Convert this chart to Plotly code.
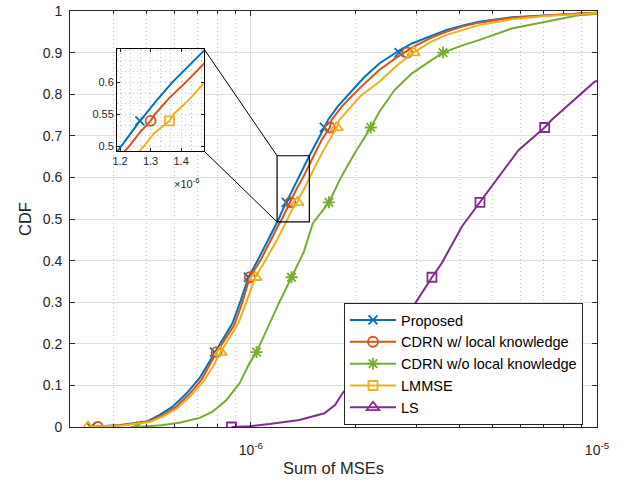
import numpy as np
import plotly.graph_objects as go

# ---------------- data ----------------
x_limits = [3e-7, 1e-5]
y_limits = [0, 1]
x_major = [1e-6, 1e-5]
x_major_text = ["10<sup>-6</sup>", "10<sup>-5</sup>"]
x_minor = [3e-7, 4e-7, 5e-7, 6e-7, 7e-7, 8e-7, 9e-7,
           2e-6, 3e-6, 4e-6, 5e-6, 6e-6, 7e-6, 8e-6, 9e-6]
y_ticks = [0, 0.1, 0.2, 0.3, 0.4, 0.5, 0.6, 0.7, 0.8, 0.9, 1]
y_tick_text = ["0", "0.1", "0.2", "0.3", "0.4", "0.5", "0.6", "0.7", "0.8", "0.9", "1"]

marker_levels = [0, 0.18, 0.36, 0.54, 0.72, 0.9]

proposed_x = [3.4e-7, 4.2e-7, 5.0e-7, 5.45e-7, 5.94e-7, 6.52e-7, 7.11e-7, 7.5e-7, 7.85e-7,
              8.3e-7, 8.85e-7, 9.35e-7, 9.84e-7, 1.045e-6, 1.12e-6, 1.18e-6, 1.203e-6,
              1.235e-6, 1.265e-6, 1.283e-6, 1.32e-6, 1.371e-6, 1.42e-6, 1.475e-6, 1.56e-6,
              1.63e-6, 1.67e-6, 1.78e-6, 1.92e-6, 2.12e-6, 2.35e-6, 2.68e-6, 2.92e-6,
              3.3e-6, 3.66e-6, 4.1e-6, 4.56e-6, 5.67e-6, 7.11e-6, 8.84e-6, 1e-5]
proposed_cdf = [0, 0.005, 0.013, 0.029, 0.049, 0.081, 0.118, 0.15, 0.18,
                0.21, 0.25, 0.305, 0.36, 0.40, 0.45, 0.485, 0.50,
                0.522, 0.54, 0.55, 0.572, 0.60, 0.625, 0.652, 0.69,
                0.72, 0.738, 0.77, 0.80, 0.84, 0.874, 0.905, 0.922,
                0.94, 0.954, 0.965, 0.974, 0.985, 0.99, 0.994, 0.996]
proposed_mk_x = [3.45e-7, 7.85e-7, 9.84e-7, 1.265e-6, 1.63e-6, 2.68e-6]

cdrn_w_x = [3.6e-7, 4.3e-7, 5.05e-7, 5.55e-7, 6.05e-7, 6.62e-7, 7.2e-7, 7.6e-7, 7.96e-7,
            8.4e-7, 8.95e-7, 9.45e-7, 9.92e-7, 1.065e-6, 1.14e-6, 1.2e-6, 1.229e-6,
            1.265e-6, 1.30e-6, 1.314e-6, 1.36e-6, 1.415e-6, 1.475e-6, 1.53e-6, 1.60e-6,
            1.69e-6, 1.71e-6, 1.83e-6, 1.98e-6, 2.17e-6, 2.35e-6, 2.6e-6, 2.83e-6,
            2.92e-6, 3.3e-6, 3.66e-6, 4.1e-6, 4.56e-6, 5.67e-6, 7.11e-6, 8.84e-6, 1e-5]
cdrn_w_cdf = [0, 0.005, 0.013, 0.028, 0.047, 0.078, 0.114, 0.148, 0.18,
              0.21, 0.245, 0.30, 0.36, 0.40, 0.45, 0.485, 0.50,
              0.522, 0.54, 0.55, 0.575, 0.60, 0.631, 0.66, 0.69,
              0.72, 0.738, 0.77, 0.80, 0.832, 0.858, 0.885, 0.905,
              0.912, 0.935, 0.95, 0.963, 0.972, 0.984, 0.99, 0.994, 0.996]
cdrn_w_mk_x = [3.61e-7, 7.96e-7, 9.92e-7, 1.30e-6, 1.69e-6, 2.83e-6]

cdrn_wo_x = [4.68e-7, 5.5e-7, 6.22e-7, 7.11e-7, 7.75e-7, 8.5e-7, 9.27e-7, 9.9e-7, 1.038e-6,
             1.131e-6, 1.208e-6, 1.31e-6, 1.42e-6, 1.51e-6, 1.68e-6, 1.82e-6, 2.0e-6,
             2.22e-6, 2.35e-6, 2.6e-6, 2.92e-6, 3.3e-6, 3.59e-6, 4.1e-6, 4.56e-6,
             5.67e-6, 7.11e-6, 8.84e-6, 1e-5]
cdrn_wo_cdf = [0, 0.004, 0.01, 0.022, 0.037, 0.065, 0.105, 0.153, 0.18,
               0.25, 0.30, 0.36, 0.42, 0.49, 0.54, 0.60, 0.66,
               0.72, 0.758, 0.81, 0.85, 0.88, 0.90, 0.918, 0.93,
               0.958, 0.974, 0.99, 0.993]
cdrn_wo_mk_x = [4.68e-7, 1.038e-6, 1.31e-6, 1.68e-6, 2.22e-6, 3.59e-6]

lmmse_x = [3.38e-7, 4.3e-7, 5.1e-7, 5.6e-7, 6.12e-7, 6.7e-7, 7.3e-7, 7.8e-7, 8.17e-7,
           8.6e-7, 9.2e-7, 9.7e-7, 1.03e-6, 1.1e-6, 1.19e-6, 1.25e-6, 1.277e-6,
           1.31e-6, 1.362e-6, 1.375e-6, 1.43e-6, 1.475e-6, 1.54e-6, 1.62e-6, 1.70e-6,
           1.77e-6, 1.80e-6, 1.92e-6, 2.07e-6, 2.35e-6, 2.65e-6, 2.95e-6, 3.3e-6,
           3.66e-6, 4.1e-6, 4.56e-6, 5.67e-6, 7.11e-6, 8.84e-6, 1e-5]
lmmse_cdf = [0, 0.004, 0.012, 0.026, 0.045, 0.075, 0.11, 0.148, 0.18,
             0.21, 0.25, 0.30, 0.36, 0.40, 0.45, 0.485, 0.50,
             0.52, 0.54, 0.55, 0.575, 0.599, 0.63, 0.665, 0.695,
             0.72, 0.738, 0.765, 0.795, 0.83, 0.87, 0.90, 0.925,
             0.942, 0.955, 0.966, 0.98, 0.988, 0.992, 0.995]
lmmse_mk_x = [3.38e-7, 8.17e-7, 1.03e-6, 1.362e-6, 1.77e-6, 2.95e-6]

ls_x = [8.79e-7, 9.9e-7, 1.131e-6, 1.38e-6, 1.63e-6, 1.75e-6, 1.835e-6, 2.3e-6,
        2.96e-6, 3.335e-6, 3.56e-6, 4.07e-6, 4.59e-6, 5.31e-6, 5.94e-6, 7.06e-6,
        7.39e-6, 9.84e-6, 1e-5]
ls_cdf = [0, 0.002, 0.007, 0.017, 0.033, 0.053, 0.08, 0.18,
          0.293, 0.36, 0.394, 0.482, 0.54, 0.61, 0.666, 0.72,
          0.738, 0.83, 0.832]
ls_mk_x = [8.79e-7, 2.3e-6, 3.335e-6, 4.59e-6, 7.06e-6]

inset_xlim = [1.19e-6, 1.475e-6]
inset_ylim = [0.493, 0.652]
inset_xticks = [1.2e-6, 1.3e-6, 1.4e-6]
inset_xtick_text = ["1.2", "1.3", "1.4"]
inset_yticks = [0.5, 0.55, 0.6]
inset_ytick_text = ["0.5", "0.55", "0.6"]

# ---------------- styles ----------------
BLUE, ORANGE, GREEN, YELLOW, PURPLE = "#0072BD", "#D95319", "#77AC30", "#EDB120", "#7E2F8E"
FONT = "Liberation Sans, Arial, Helvetica, sans-serif"
AX = "#262626"
LW = 2

W, H = 629, 484
PL, PR, PT, PB = 70, 597, 11, 427   # plot area in pixels
ML, MR, MT, MB = PL, W - PR, PT, H - PB

series = [
    ("Proposed", proposed_x, proposed_cdf, proposed_mk_x, BLUE, "x-thin-open", "x-thin-open"),
    ("CDRN w/ local knowledge", cdrn_w_x, cdrn_w_cdf, cdrn_w_mk_x, ORANGE, "circle-open", "circle-open"),
    ("CDRN w/o local knowledge", cdrn_wo_x, cdrn_wo_cdf, cdrn_wo_mk_x, GREEN, "asterisk-open", "asterisk-open"),
    ("LMMSE", lmmse_x, lmmse_cdf, lmmse_mk_x, YELLOW, "triangle-up-open", "square-open"),
    ("LS", ls_x, ls_cdf, ls_mk_x, PURPLE, "square-open", "triangle-up-open"),
]

def msize(sym):
    return {"x-thin-open": 9, "circle-open": 10, "asterisk-open": 10,
            "triangle-up-open": 11, "square-open": 9}[sym]

fig = go.Figure()

for name, xs, ys, mk, col, sym_plot, sym_leg in series:
    fig.add_trace(go.Scatter(x=xs, y=ys, mode="lines", line=dict(color=col, width=LW),
                             showlegend=False, hoverinfo="skip", xaxis="x", yaxis="y"))
    fig.add_trace(go.Scatter(x=mk, y=marker_levels[:len(mk)], mode="markers",
                             marker=dict(symbol=sym_plot, size=msize(sym_plot), color=col,
                                         line=dict(color=col, width=1.8)),
                             showlegend=False, hoverinfo="skip", xaxis="x", yaxis="y"))

for name, xs, ys, mk, col, sym_plot, sym_leg in series:
    fig.add_trace(go.Scatter(x=[None], y=[None], mode="lines+markers", name=name,
                             line=dict(color=col, width=LW),
                             marker=dict(symbol=sym_leg, size=msize(sym_leg), color=col,
                                         line=dict(color=col, width=1.8))))

fig.add_trace(go.Scatter(x=[inset_xlim[0], inset_xlim[1], inset_xlim[1], inset_xlim[0], inset_xlim[0]],
                         y=[inset_ylim[0], inset_ylim[0], inset_ylim[1], inset_ylim[1], inset_ylim[0]],
                         mode="lines", line=dict(color="black", width=1.2),
                         showlegend=False, hoverinfo="skip", xaxis="x", yaxis="y"))

inset_marker_symbols = ["x-thin-open", "circle-open", None, "square-open", None]
for (name, xs, ys, mk, col, sym_plot, sym_leg), isym in zip(series, inset_marker_symbols):
    if isym is None:
        continue
    fig.add_trace(go.Scatter(x=xs, y=ys, mode="lines", line=dict(color=col, width=LW),
                             showlegend=False, hoverinfo="skip", xaxis="x2", yaxis="y2"))
    fig.add_trace(go.Scatter(x=[mk[3]], y=[marker_levels[3]], mode="markers",
                             marker=dict(symbol=isym, size=msize(isym), color=col,
                                         line=dict(color=col, width=1.8)),
                             showlegend=False, hoverinfo="skip", xaxis="x2", yaxis="y2"))

pw = PR - PL
ph = PB - PT
lo, hi = np.log10(x_limits[0]), np.log10(x_limits[1])

def fx(px):
    return (px - PL) / pw

def fy(py):
    return (PB - py) / ph

inset_px = [117, 204, 49, 151]  # left, right, top, bottom
ix0, ix1 = fx(inset_px[0]), fx(inset_px[1])
iy0, iy1 = fy(inset_px[3]), fy(inset_px[2])

rx0 = (np.log10(inset_xlim[0]) - lo) / (hi - lo)
ry0, ry1 = inset_ylim

fig.update_layout(
    width=W, height=H,
    margin=dict(l=ML, r=MR, t=MT, b=MB, autoexpand=False),
    paper_bgcolor="white", plot_bgcolor="white",
    font=dict(family=FONT, size=14, color=AX),
    xaxis=dict(type="log", range=[lo, hi], tickmode="array", tickvals=x_major,
               ticktext=x_major_text, ticks="inside", ticklen=5, tickcolor=AX,
               showline=True, linecolor=AX, linewidth=1, mirror="ticks",
               showgrid=True, gridcolor="#dedede", gridwidth=1, automargin=False,
               zeroline=False, tickfont=dict(size=14), ticklabelstandoff=10,
               ticklabeloverflow="allow",
               minor=dict(tickmode="array", tickvals=x_minor, ticks="inside", ticklen=3,
                          tickcolor=AX, showgrid=True, gridcolor="#c4c4c4",
                          griddash="1px,3px", gridwidth=1),
               title=dict(text="Sum of MSEs", font=dict(size=16.5), standoff=5),
               domain=[0, 1]),
    yaxis=dict(range=y_limits, tickmode="array", tickvals=y_ticks, ticktext=y_tick_text,
               ticks="inside", ticklen=5, tickcolor=AX, showline=True, linecolor=AX,
               linewidth=1, mirror="ticks", showgrid=True, gridcolor="#dedede",
               zeroline=False, tickfont=dict(size=14), ticklabelstandoff=4, automargin=False,
               ticklabeloverflow="allow",
               title=dict(text="CDF", font=dict(size=16.5), standoff=6),
               domain=[0, 1]),
    xaxis2=dict(domain=[ix0, ix1], anchor="y2", range=inset_xlim, tickmode="array",
                tickvals=inset_xticks, ticktext=inset_xtick_text, ticks="inside", ticklen=3,
                tickcolor=AX, showline=True, linecolor="black", linewidth=1, mirror="ticks",
                showgrid=False, zeroline=False, tickfont=dict(size=11), automargin=False,
                minor=dict(tick0=inset_xticks[0], dtick=1e-7 / 3, showgrid=True,
                           gridcolor="#c4c4c4", griddash="1px,3px", gridwidth=1)),
    yaxis2=dict(domain=[iy0, iy1], anchor="x2", range=inset_ylim, tickmode="array",
                tickvals=inset_yticks, ticktext=inset_ytick_text, ticks="inside", ticklen=3,
                tickcolor=AX, showline=True, linecolor="black", linewidth=1, mirror="ticks",
                showgrid=False, zeroline=False, tickfont=dict(size=11), automargin=False,
                minor=dict(tick0=inset_yticks[0], dtick=0.05 / 3, showgrid=True,
                           gridcolor="#c4c4c4", griddash="1px,3px", gridwidth=1)),
    legend=dict(x=fx(344), y=fy(425), xanchor="left", yanchor="bottom",
                bgcolor="white", bordercolor=AX, borderwidth=1, itemwidth=46,
                font=dict(size=14.5, color="black"), tracegroupgap=0),
    showlegend=True,
    shapes=[
        dict(type="line", xref="paper", yref="paper", x0=ix1, y0=iy1, x1=rx0, y1=ry1,
             line=dict(color="black", width=1)),
        dict(type="line", xref="paper", yref="paper", x0=ix1, y0=iy0, x1=rx0, y1=ry0,
             line=dict(color="black", width=1)),
    ],
    annotations=[
        dict(text="×10<sup>-6</sup>", xref="paper", yref="paper",
             x=fx(187), y=fy(183), showarrow=False,
             font=dict(size=11, color=AX), xanchor="center", yanchor="middle"),
    ],
)

fig.write_html("out.html", config={"displayModeBar": False},
               post_script="document.body.style.margin='0px';")
